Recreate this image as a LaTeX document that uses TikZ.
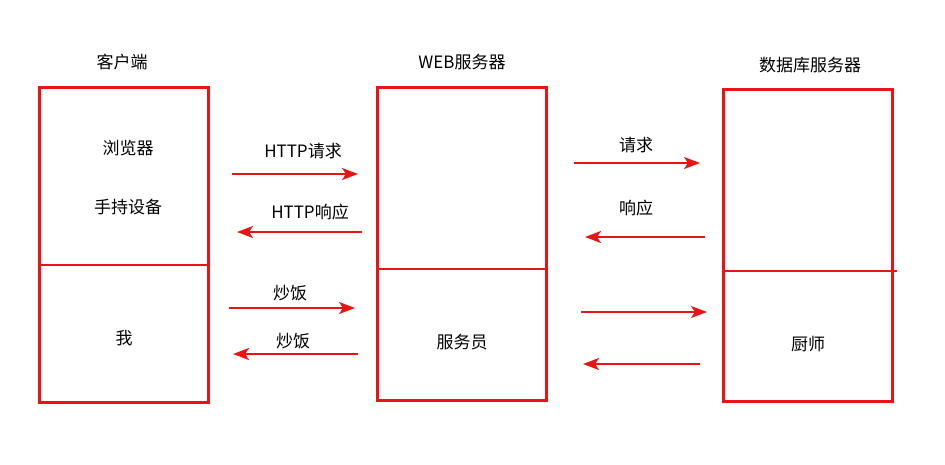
\documentclass[tikz,border=0pt]{standalone}
\usepackage{fontspec}
\setmainfont{Noto Sans CJK SC}
\usetikzlibrary{arrows.meta}
\definecolor{boxred}{RGB}{235,20,20}

\begin{document}
\begin{tikzpicture}[x=1pt, y=-1pt,
    every node/.style={font=\fontsize{17}{20}\selectfont, inner sep=0pt},
    tier/.style={draw=boxred, line width=3pt, minimum width=169pt},
    flow/.style={boxred, line width=2pt, -{Stealth[length=16pt, width=12pt, inset=4pt]}}]
    \useasboundingbox (0,0) rectangle (945,464);

    % --- Titulos ---
    \node (tclient) at (122, 62) {客户端};
    \node (tweb)    at (462, 62) {WEB服务器};
    \node (tdb)     at (810, 65) {数据库服务器};

    % --- Cajas ---
    \node[tier, minimum height=315pt] (client) at (123.5, 244.5) {};
    \node[tier, minimum height=313pt] (web)    at (461.5, 243.5) {};
    \node[tier, minimum height=312pt] (db)     at (807.5, 245) {};

    % --- Divisiones ---
    \draw[boxred, line width=2pt] (client.west |- 0,265) -- (client.east |- 0,265);
    \draw[boxred, line width=2pt] (web.west |- 0,269) -- (web.east |- 0,269);
    \draw[boxred, line width=2pt] (db.west |- 0,271) -- (897,271);

    % --- Textos dentro ---
    \node (browser) at (128, 148) {浏览器};
    \node (mobile)  at (128, 207) {手持设备};
    \node (me)      at (124, 338) {我};
    \node (waiter)  at (462, 342) {服务员};
    \node (cook)    at (808, 344) {厨师};

    % --- Flechas cliente <-> web ---
    \coordinate (a1s) at (232,174); \coordinate (a1e) at (358,174);
    \coordinate (a2s) at (362,232); \coordinate (a2e) at (237,232);
    \coordinate (a3s) at (229,308); \coordinate (a3e) at (355,308);
    \coordinate (a4s) at (358,354); \coordinate (a4e) at (233,354);
    \draw[flow] (a1s) -- (a1e);
    \draw[flow] (a2s) -- (a2e);
    \draw[flow] (a3s) -- (a3e);
    \draw[flow] (a4s) -- (a4e);
    \node (lreq)  at (303, 151) {HTTP请求};
    \node (lresp) at (310, 212) {HTTP响应};
    \node (lfr1)  at (290, 293) {炒饭};
    \node (lfr2)  at (293, 341) {炒饭};

    % --- Flechas web <-> base de datos ---
    \coordinate (b1s) at (574,163); \coordinate (b1e) at (700,163);
    \coordinate (b2s) at (705,237); \coordinate (b2e) at (585,237);
    \coordinate (b3s) at (581,312); \coordinate (b3e) at (707,312);
    \coordinate (b4s) at (700,364); \coordinate (b4e) at (583,364);
    \draw[flow] (b1s) -- (b1e);
    \draw[flow] (b2s) -- (b2e);
    \draw[flow] (b3s) -- (b3e);
    \draw[flow] (b4s) -- (b4e);
    \node (dreq)  at (636, 145) {请求};
    \node (dresp) at (636, 208) {响应};

\end{tikzpicture}
\end{document}
